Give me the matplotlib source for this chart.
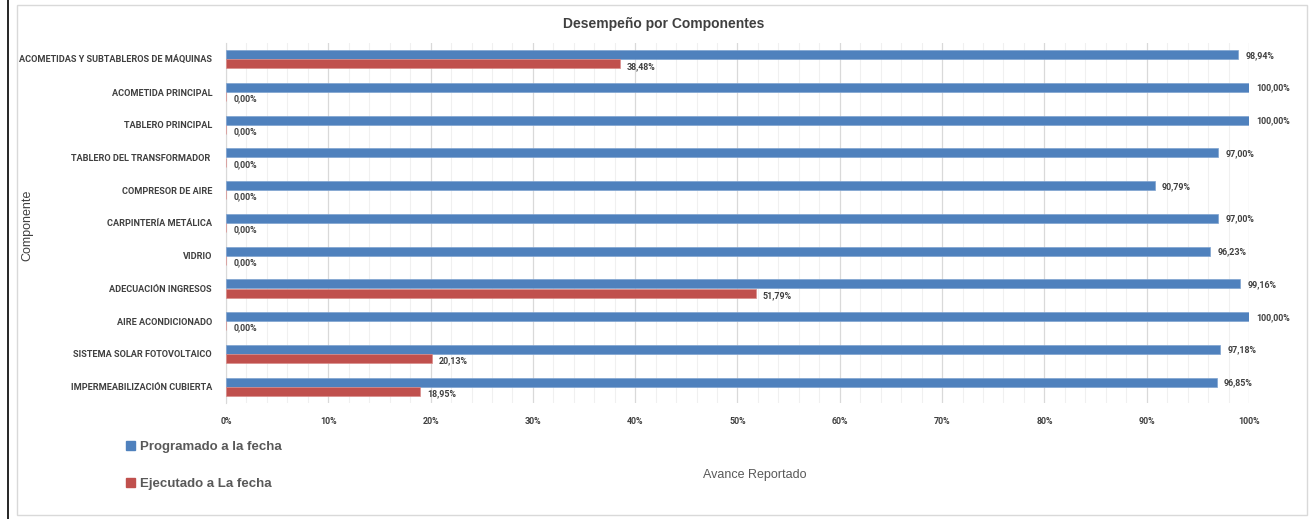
import matplotlib
matplotlib.use('Agg')
import matplotlib.pyplot as plt
from matplotlib.patches import Patch, Rectangle
from matplotlib.lines import Line2D
from matplotlib.ticker import MultipleLocator, FuncFormatter

componentes = [
    'ACOMETIDAS Y SUBTABLEROS DE MÁQUINAS',
    'ACOMETIDA PRINCIPAL',
    'TABLERO PRINCIPAL',
    'TABLERO DEL TRANSFORMADOR ',
    'COMPRESOR DE AIRE',
    'CARPINTERÍA METÁLICA',
    'VIDRIO',
    'ADECUACIÓN INGRESOS',
    'AIRE ACONDICIONADO',
    'SISTEMA SOLAR FOTOVOLTAICO',
    'IMPERMEABILIZACIÓN CUBIERTA',
]
programado = [98.94, 100.00, 100.00, 97.00, 90.79, 97.00, 96.23, 99.16, 100.00, 97.18, 96.85]
ejecutado = [38.48, 0.00, 0.00, 0.00, 0.00, 0.00, 0.00, 51.79, 0.00, 20.13, 18.95]
x_ticks = [0, 10, 20, 30, 40, 50, 60, 70, 80, 90, 100]

BLUE = '#4F81BD'
RED = '#C0504D'
TXT = '#404040'
LBL_FONT = ['Roboto', 'DejaVu Sans']
NARROW = ['Liberation Sans Narrow', 'Liberation Sans']

fig = plt.figure(figsize=(13.1, 5.19), dpi=100, facecolor='white')
ax = fig.add_axes([226 / 1310, 1 - 403 / 519, 1023 / 1310, 360 / 519])

# chart frame and the black line at the left edge
fig.patches.append(Rectangle((17 / 1310, 4 / 519), 1290 / 1310, 510 / 519,
                             transform=fig.transFigure, fill=False,
                             edgecolor='#d9d9d9', lw=1))
fig.lines.append(Line2D([8 / 1310, 8 / 1310], [0, 1], transform=fig.transFigure,
                        color='black', lw=1.2))

y = list(range(len(componentes)))
h = 0.275
off = 0.14
ax.barh([v - off for v in y], programado, height=h, color=BLUE,
        edgecolor='#7fa3d0', lw=0.5, zorder=3)
ax.barh([v + off for v in y], ejecutado, height=h, color=RED,
        edgecolor='#d98c8a', lw=0.5, zorder=3)

for i in y:
    ax.text(programado[i] + 0.7, i - off + 0.02, ('%.2f%%' % programado[i]).replace('.', ','),
            va='center', ha='left', fontsize=6.4, fontweight='bold', color=TXT,
            family=LBL_FONT, clip_on=False)
    ax.text(ejecutado[i] + 0.7, i + off + 0.07, ('%.2f%%' % ejecutado[i]).replace('.', ','),
            va='center', ha='left', fontsize=6.4, fontweight='bold', color=TXT,
            family=LBL_FONT, clip_on=False)

ax.set_xlim(0, 100)
ax.set_ylim(len(componentes) - 0.5, -0.5)
ax.set_yticks(y)
ax.set_yticklabels(componentes, fontsize=6.6, fontweight='bold', color=TXT, family=LBL_FONT)
ax.set_xticks(x_ticks)
ax.xaxis.set_major_formatter(FuncFormatter(lambda v, p: '%d%%' % v))
ax.xaxis.set_minor_locator(MultipleLocator(2))
for t in ax.get_xticklabels():
    t.set_fontsize(6.4)
    t.set_fontweight('bold')
    t.set_color(TXT)
    t.set_family(LBL_FONT)
ax.tick_params(axis='both', length=0, which='both')
ax.tick_params(axis='x', pad=10)
ax.tick_params(axis='y', pad=10)
ax.grid(axis='x', which='major', color='#d9d9d9', lw=0.9, zorder=0)
ax.grid(axis='x', which='minor', color='#f0f0f0', lw=0.8, zorder=0)
for s in ['top', 'right', 'bottom']:
    ax.spines[s].set_visible(False)
ax.spines['left'].set_color('#d9d9d9')

fig.text(664 / 1310, 1 - 24 / 519, 'Desempeño por Componentes', ha='center', va='center',
         fontsize=10, fontweight='bold', color=TXT, family='Liberation Sans')
fig.text(27 / 1310, 1 - 225 / 519, 'Componente', rotation=90, ha='center', va='center',
         fontsize=9, color=TXT, family=NARROW)
fig.text(755 / 1310, 1 - 475 / 519, 'Avance Reportado', ha='center', va='center',
         fontsize=9, color='#595959', family=NARROW)

handles = [Patch(color=BLUE), Patch(color=RED)]
leg = fig.legend(handles, ['Programado a la fecha', 'Ejecutado a La fecha'],
                 loc='upper left', bbox_to_anchor=(114 / 1310, 1 - 429 / 519),
                 frameon=False, handlelength=0.7, handleheight=0.7, handletextpad=0.35,
                 labelspacing=1.85,
                 prop={'size': 9.5, 'weight': 'bold', 'family': NARROW})
for t in leg.get_texts():
    t.set_color('#595959')

fig.savefig('out.png', dpi=100, facecolor='white')
